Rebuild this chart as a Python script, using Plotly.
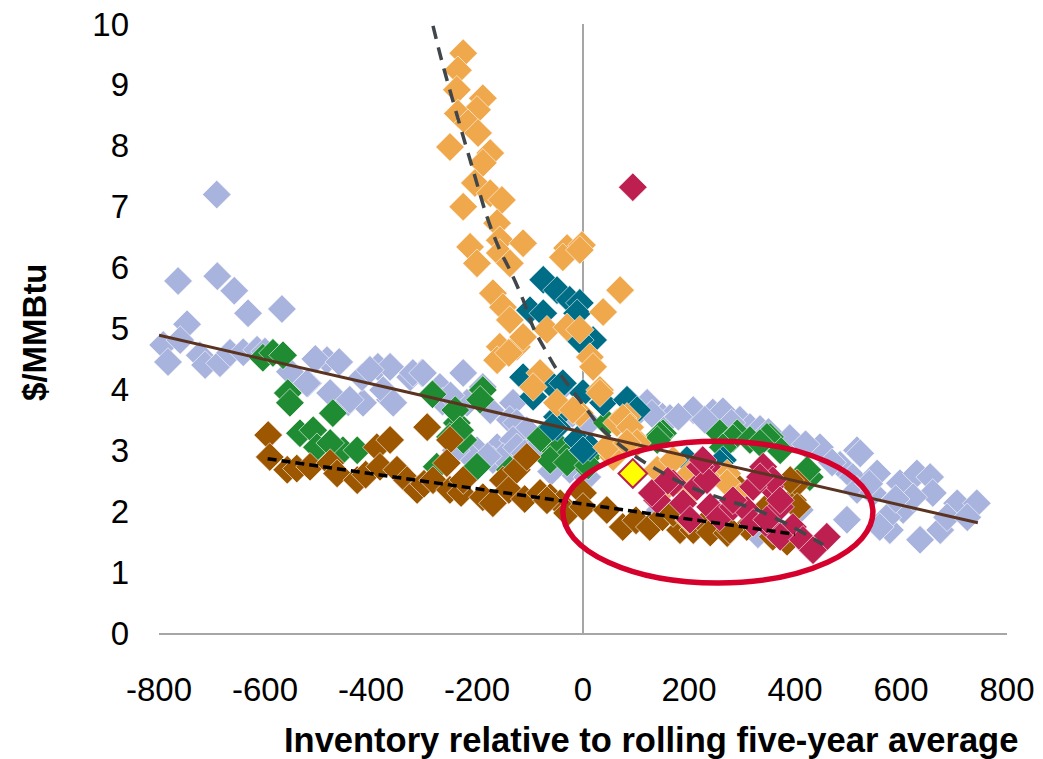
import plotly.graph_objects as go

# ---------------- data ----------------
lav_x = [-764, -690, -658, -632, -568, -747, -792, -783, -760, -723, -713, -685, -666, -641, -615,
         -553, -519, -483, -477, -443, -415, -417, -387, -364, -364, -326, -304, -270, -691,
         -521, -440, -402, -377, -358, -321, -302, -226, -189, -219, -175, -132, -138, -125, -106,
         -265, -250, -200, -162, -132, -219, -170, -151, -125, -94, -62, -25, 8, -60, -43, -20, 10,
         108, 121, 150, 164, 208, 245, 264, 296, 315, 334, 447, 517, 485, 509, 555, 517, 498,
         579, 598, 630, 655, 660, 636, 674, 706, 743, 604, 574, 547, 623, 687, 725, 560, 409,
         523, 330, 145,
         130, 180, 230, 280, 350, 390, 420, -240, -180, -110, -80, -600, -505, -460, 470, 540, 590]
lav_y = [5.78, 5.86, 5.62, 5.25, 5.32, 5.07, 4.73, 4.45, 4.81, 4.56, 4.40, 4.43, 4.60, 4.61, 4.65,
         4.29, 4.10, 4.48, 3.94, 3.79, 3.78, 4.20, 4.37, 4.37, 3.83, 4.20, 4.27, 4.04, 7.20,
         4.10, 3.83, 4.32, 3.99, 3.78, 4.27, 4.27, 4.27, 4.04, 3.78, 3.66, 3.78, 3.50, 3.45, 3.33,
         3.80, 3.90, 3.00, 3.05, 3.17, 2.95, 2.84, 2.89, 3.05, 3.05, 3.17, 2.68, 2.56, 2.65, 4.00, 3.60, 3.45,
         3.66, 3.78, 3.55, 3.53, 3.66, 3.62, 3.64, 3.50, 3.38, 3.35, 3.05, 3.00, 2.76, 2.56, 2.62, 2.35, 1.86,
         1.69, 2.46, 2.62, 2.56, 2.30, 1.53, 1.69, 2.13, 2.13, 2.02, 1.90, 2.30, 2.23, 1.90, 1.90, 1.74, 2.02,
         2.95, 1.62, 2.02,
         3.60, 3.55, 3.50, 3.45, 3.30, 3.20, 3.10, 3.00, 2.90, 2.95, 3.10, 4.62, 4.50, 4.45, 2.80, 2.45, 2.20]

grn_x = [-604, -585, -566, -557, -553, -284, -472, -534, -509, -502, -453, -426, -477,
         -189, -194, -238, -251, -226, -276, -200, -241, -68, -43, -25, 0, -138, -62, -232, 8, 45,
         151, 258, 291, 283, 315, 353, 372, 264, 428, 145, 347, 423, -30, 0, 10, 140, 334, -80]
grn_y = [4.52, 4.60, 4.56, 3.94, 3.78, 3.92, 3.61, 3.28, 3.33, 3.05, 3.00, 3.00, 3.12,
         3.99, 3.83, 3.45, 3.22, 3.17, 2.73, 2.73, 3.66, 3.12, 3.05, 2.95, 2.79, 2.68, 2.84, 3.33, 2.89, 3.45,
         3.28, 3.28, 3.28, 3.20, 3.17, 3.22, 3.00, 3.05, 2.56, 3.25, 3.22, 2.68, 2.80, 3.00, 2.75, 3.17, 3.12, 3.20]

brn_x = [-594, -591, -558, -540, -515, -477, -464, -426, -410, -389, -364, -383, -351, -332, -313, -300,
         -294, -283, -251, -257, -251, -230, -226, -189, -170, -151, -140, -125, -110, -106, -81, -62, -43,
         -30, 0, -68, 0, 45, 75, 100, 126, 150, 183, 208, 170, 230, 240, 272, 309, 358, 396, 404, 291,
         391, 404, 347, 277, 385]
brn_y = [3.25, 2.89, 2.68, 2.70, 2.73, 2.79, 2.62, 2.51, 2.60, 3.05, 3.17, 2.73, 2.68, 2.51, 2.35, 2.45,
         3.38, 2.51, 3.17, 2.79, 2.35, 2.30, 2.51, 2.23, 2.13, 2.51, 2.35, 2.68, 2.20, 2.89, 2.30, 2.23, 2.13,
         1.97, 2.30, 2.18, 2.07, 2.02, 1.74, 1.85, 1.74, 1.90, 1.69, 1.69, 1.97, 1.80, 1.65, 1.64, 1.74, 1.58,
         2.18, 2.46, 2.40, 2.51, 2.07, 2.07, 1.69, 1.50]

tea_x = [-75, -49, -25, -6, -11, -100, -75, 19, -6, -113, -62, -94, 0, 38, 89, -49, -49, -11, 13, 94,
         83, 102, -38, 0, 196, 264, -57, 258]
tea_y = [5.80, 5.63, 5.47, 5.42, 5.25, 5.30, 5.25, 4.81, 4.81, 4.20, 4.10, 3.88, 3.94, 3.78, 3.78, 3.55,
         3.38, 3.17, 3.05, 3.61, 3.83, 3.66, 4.10, 3.00, 2.84, 2.84, 3.38, 2.79]

org_x = [-226, -236, -238, -189, -200, -236, -217, -198, -251, -175, -189, -204, -175, -153, -226, -162,
         -213, -200, -157, -113, -30, -2, -157, -138, -38, -6, 70, -170, -151, -138, -157, -162, -125,
         -113, -68, -30, -6, 38, 13, 19, -81, -94, 32, -49, -6, 83, 64, 94, 32, -19, 75, 89, 102, 140,
         170, 202, 240, 272, 57, 45, 83, 158, 202, 234, 272, 200, 296, -140]
org_y = [9.52, 9.24, 8.92, 8.78, 8.59, 8.53, 8.37, 8.21, 7.98, 7.88, 7.72, 7.39, 7.22, 7.11, 7.00, 6.73,
         6.34, 6.07, 6.45, 6.40, 6.32, 6.37, 6.24, 6.07, 6.17, 6.29, 5.63, 5.58, 5.35, 5.14, 4.70, 4.48, 4.70,
         4.86, 4.98, 5.02, 4.98, 5.27, 4.53, 4.37, 4.27, 4.04, 3.99, 3.78, 3.61, 3.55, 3.45, 3.22, 3.94, 3.66,
         3.53, 3.38, 3.12, 2.68, 2.84, 2.62, 2.68, 2.62, 2.89, 3.05, 3.12, 2.40, 2.30, 2.56, 2.46, 1.85, 2.23, 4.60]

crm_x = [94, 140, 170, 189, 202, 234, 240, 258, 283, 309, 340, 353, 372, 358, 396, 428, 460, 321, 215,
         221, 234, 340, 358, 321, 283, 372, 347, 372, 415, 434, 226, 334, 130, 160]
crm_y = [7.32, 2.18, 2.46, 2.13, 1.86, 2.73, 2.07, 1.90, 2.07, 2.02, 2.56, 2.40, 2.07, 1.69, 1.74, 1.41,
         1.58, 1.81, 2.40, 2.73, 2.51, 2.73, 2.51, 2.40, 2.18, 2.18, 1.86, 1.58, 1.53, 1.36, 2.84, 2.56, 2.30, 2.50]

yel_x = [94]
yel_y = [2.62]

# trend lines
trend_all_x = [-800, 745]
trend_all_y = [4.89, 1.81]
trend_low_x = [-595, 400]
trend_low_y = [2.86, 1.62]
trend_curve_x = [-283, -266, -228, -209, -181, -157, -138, -113, -94, -68, -49, -25, 8, 38, 89, 140,
                 202, 272, 328, 396, 453]
trend_curve_y = [9.97, 9.38, 8.21, 7.65, 6.83, 6.29, 5.96, 5.47, 5.02, 4.60, 4.32, 4.04, 3.66, 3.33,
                 2.96, 2.68, 2.40, 2.18, 2.02, 1.74, 1.45]

# highlighted region (ellipse bounds)
ellipse_x = [-38, 547]
ellipse_y = [0.82, 3.15]

x_ticks = [-800, -600, -400, -200, 0, 200, 400, 600, 800]
y_ticks = list(range(0, 11))

FONT = "Liberation Sans, Arial, sans-serif"

fig = go.Figure()

def scatter(xs, ys, color, line_color="white", line_width=0.6):
    fig.add_trace(go.Scatter(
        x=xs, y=ys, mode="markers", cliponaxis=False,
        marker=dict(symbol="diamond", size=22, color=color,
                    line=dict(color=line_color, width=line_width)),
        showlegend=False, hoverinfo="skip"))

scatter(lav_x, lav_y, "#a8b3de")
scatter(grn_x, grn_y, "#1f8c33")
scatter(brn_x, brn_y, "#9c5700")
scatter(tea_x, tea_y, "#006d87")
scatter(org_x, org_y, "#f0a84c")
scatter(crm_x, crm_y, "#bc1f50")
scatter(yel_x, yel_y, "#ffff00", line_color="#bc1f50", line_width=2)

fig.add_trace(go.Scatter(x=trend_all_x, y=trend_all_y, mode="lines",
                         line=dict(color="#5b3421", width=3), showlegend=False, hoverinfo="skip"))
fig.add_trace(go.Scatter(x=trend_low_x, y=trend_low_y, mode="lines",
                         line=dict(color="#000000", width=3.5, dash="9px,5px"),
                         showlegend=False, hoverinfo="skip"))
fig.add_trace(go.Scatter(x=trend_curve_x, y=trend_curve_y, mode="lines", line_shape="spline",
                         line=dict(color="#41464b", width=3.5, dash="13px,9px"),
                         showlegend=False, hoverinfo="skip"))

fig.add_shape(type="circle", xref="x", yref="y",
              x0=ellipse_x[0], x1=ellipse_x[1], y0=ellipse_y[0], y1=ellipse_y[1],
              line=dict(color="#d6002c", width=5.5), layer="above")

fig.update_layout(
    width=1043, height=759,
    margin=dict(l=159, r=36, t=24, b=126, autoexpand=False),
    paper_bgcolor="white", plot_bgcolor="white",
    font=dict(family=FONT, color="black"),
    xaxis=dict(range=[-800, 800], tickvals=x_ticks, ticktext=[str(v) for v in x_ticks],
               showgrid=False, zeroline=True, zerolinecolor="#a6a6a6", zerolinewidth=1.5,
               showline=True, linecolor="#a6a6a6", linewidth=2, ticks="", automargin=False,
               tickfont=dict(size=33, family=FONT), ticklabelstandoff=26),
    yaxis=dict(range=[0, 10], tickvals=y_ticks, ticktext=[str(v) for v in y_ticks],
               showgrid=False, zeroline=False, showline=False, ticks="", automargin=False,
               tickfont=dict(size=33, family=FONT), ticklabelstandoff=29),
    annotations=[
        dict(text="<b>Inventory relative to rolling five-year average</b>", xref="paper", yref="paper",
             x=0.58, y=-0.176, xanchor="center", yanchor="middle", showarrow=False,
             font=dict(size=34.5, family=FONT, color="black")),
        dict(text="<b>$/MMBtu</b>", xref="paper", yref="paper", x=-0.146, y=0.493,
             xanchor="center", yanchor="middle", textangle=-90, showarrow=False,
             font=dict(size=33, family=FONT, color="black")),
    ],
)

fig.write_html("out.html")
